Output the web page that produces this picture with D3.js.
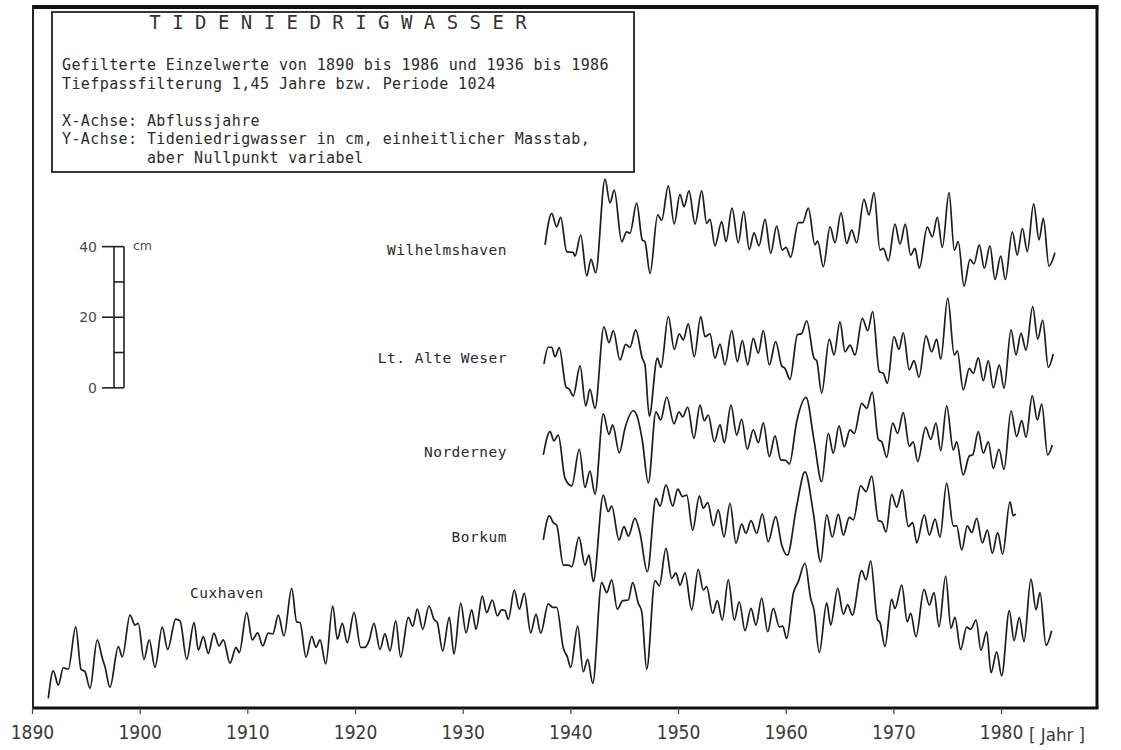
<!DOCTYPE html>
<html>
<head>
<meta charset="utf-8">
<script src="https://cdn.jsdelivr.net/npm/d3@7"></script>
<style>
  body { margin: 0; background: #fff; }
  .mono { font-family: "DejaVu Sans Mono", monospace; fill: #2b2b2b; }
  .axis text { font-family: "DejaVu Sans Condensed", "DejaVu Sans", sans-serif; font-stretch: condensed; fill: #3a3a3a; }
</style>
</head>
<body>
<div id="container"></div>
<script>
// Tideniedrigwasser, gefilterte Werte: [Abflussjahr, cm auf der Zeichnung (Nullpunkt variabel)]
const wilhelmshaven = [
  [1937.65,131.2],[1938.27,140.1],[1938.73,136.3],[1939.10,139.0],[1939.66,129.3],[1940.27,129.0],[1940.43,128.0],
  [1940.96,134.0],[1941.52,122.4],[1941.92,127.1],[1942.35,123.3],[1943.22,149.8],[1943.68,143.1],[1944.08,146.7],
  [1944.77,132.1],[1945.23,134.9],[1945.54,134.5],[1946.16,143.0],[1946.68,132.6],[1946.93,132.1],[1947.40,123.1],
  [1948.11,139.7],[1948.48,138.2],[1949.10,147.9],[1949.65,137.1],[1950.18,145.5],[1950.56,142.0],[1951.02,146.5],
  [1951.58,137.1],[1952.20,146.5],[1952.66,137.3],[1952.97,138.4],[1953.43,130.9],[1954.06,137.8],[1954.46,132.1],
  [1955.01,141.6],[1955.60,131.8],[1956.10,140.6],[1956.62,129.9],[1957.06,134.6],[1957.52,130.9],[1958.08,138.4],
  [1958.61,128.8],[1959.16,136.5],[1959.68,129.7],[1960.03,130.5],[1960.46,127.7],[1961.17,137.5],[1961.58,137.5],
  [1962.10,141.6],[1962.72,131.2],[1962.97,132.3],[1963.49,125.0],[1964.12,136.3],[1964.58,131.8],[1965.14,140.3],
  [1965.67,131.6],[1966.13,135.4],[1966.59,131.8],[1967.27,144.1],[1967.74,139.7],[1968.20,146.0],[1968.76,129.7],
  [1969.07,130.2],[1969.53,126.7],[1970.15,137.1],[1970.62,131.4],[1971.11,137.1],[1971.61,128.3],[1972.01,130.2],
  [1972.41,124.6],[1973.15,136.2],[1973.62,133.5],[1974.08,139.0],[1974.55,130.5],[1975.17,146.0],[1975.66,129.7],
  [1976.03,132.1],[1976.56,119.5],[1977.12,127.1],[1977.49,125.8],[1977.98,131.2],[1978.45,124.6],[1978.97,130.9],
  [1979.44,121.4],[1979.97,128.0],[1980.40,121.4],[1981.05,134.9],[1981.51,128.3],[1981.98,135.9],[1982.44,129.3],
  [1983.03,142.8],[1983.53,132.6],[1983.93,138.7],[1984.45,125.2],[1985.01,129.0]
];

const altWeser = [
  [1937.55,97.5],[1937.95,102.2],[1938.27,102.2],[1938.57,99.5],[1938.97,102.1],[1939.60,90.9],[1939.90,90.3],
  [1940.27,88.4],[1940.90,96.9],[1941.43,85.6],[1941.82,90.3],[1942.29,84.9],[1943.12,108.0],[1943.59,103.5],
  [1943.99,106.9],[1944.61,98.6],[1945.14,103.0],[1945.54,102.2],[1946.07,107.1],[1946.68,99.1],[1946.93,97.2],
  [1947.33,82.7],[1948.08,99.1],[1948.42,96.5],[1949.10,110.9],[1949.65,101.6],[1950.12,106.0],[1950.49,104.3],
  [1950.95,108.8],[1951.51,99.5],[1952.11,110.9],[1952.51,105.2],[1952.97,106.0],[1953.43,99.1],[1953.90,103.1],
  [1954.36,97.2],[1954.99,106.9],[1955.51,98.1],[1955.97,104.1],[1956.47,97.2],[1956.99,104.7],[1957.46,100.5],
  [1957.92,106.9],[1958.48,97.2],[1959.07,103.8],[1959.63,96.9],[1959.94,96.2],[1960.40,93.1],[1961.08,105.7],
  [1961.49,106.1],[1961.95,109.7],[1962.63,99.1],[1962.88,98.4],[1963.34,89.2],[1964.05,104.5],[1964.49,100.0],
  [1965.04,109.4],[1965.51,100.9],[1965.97,102.8],[1966.44,100.0],[1967.12,110.4],[1967.62,106.9],[1968.08,112.3],
  [1968.69,95.3],[1969.07,94.8],[1969.44,92.0],[1970.06,105.2],[1970.52,101.6],[1970.92,106.3],[1971.48,95.8],
  [1971.92,98.4],[1972.38,93.7],[1973.03,105.4],[1973.56,100.9],[1974.02,104.5],[1974.40,98.8],[1975.05,116.1],
  [1975.66,100.0],[1975.94,101.2],[1976.49,90.1],[1977.05,96.2],[1977.42,94.8],[1977.89,99.2],[1978.35,92.7],
  [1978.82,98.4],[1979.28,90.7],[1979.84,97.2],[1980.28,90.6],[1980.93,107.1],[1981.39,100.0],[1981.85,106.1],
  [1982.32,101.4],[1982.94,113.7],[1983.41,104.5],[1983.87,109.9],[1984.39,96.5],[1984.85,100.3]
];

const norderney = [
  [1937.49,71.7],[1938.11,78.3],[1938.48,75.7],[1938.88,77.3],[1939.50,65.1],[1940.13,62.9],[1940.83,73.3],
  [1941.36,62.5],[1941.82,67.1],[1942.29,60.6],[1943.06,83.3],[1943.59,77.5],[1943.93,80.2],[1944.55,72.3],
  [1945.07,79.2],[1945.85,84.2],[1946.16,83.0],[1946.68,75.9],[1947.24,63.8],[1947.95,83.9],[1948.39,81.6],
  [1948.95,88.1],[1949.63,80.5],[1950.09,83.9],[1950.43,82.5],[1950.90,85.2],[1951.48,76.4],[1952.04,85.8],
  [1952.44,81.4],[1952.81,83.0],[1953.37,75.4],[1953.90,80.2],[1954.30,75.2],[1954.92,85.8],[1955.45,77.3],
  [1955.91,81.8],[1956.43,73.3],[1956.99,78.8],[1957.46,75.2],[1957.92,80.8],[1958.48,71.2],[1959.01,77.1],
  [1959.54,70.3],[1960.03,70.1],[1960.34,69.1],[1961.02,81.1],[1961.89,88.0],[1962.63,75.9],[1963.34,64.1],
  [1963.96,77.8],[1964.42,72.2],[1964.95,79.9],[1965.44,74.0],[1965.97,78.8],[1966.37,77.8],[1967.06,86.3],
  [1967.52,84.9],[1968.04,89.5],[1968.60,76.1],[1968.92,75.4],[1969.38,71.0],[1969.94,80.7],[1970.40,77.8],
  [1970.92,83.7],[1971.48,74.2],[1971.85,75.4],[1972.26,69.8],[1973.00,79.5],[1973.47,76.1],[1973.96,80.7],
  [1974.40,72.9],[1974.95,85.6],[1975.57,73.1],[1975.88,75.4],[1976.49,66.0],[1977.05,71.4],[1977.37,71.7],
  [1977.89,78.3],[1978.35,72.2],[1978.82,75.4],[1979.28,67.9],[1979.81,73.3],[1980.28,67.6],[1980.93,84.2],
  [1981.45,76.9],[1981.92,81.4],[1982.32,76.7],[1982.90,88.4],[1983.37,81.6],[1983.78,86.1],[1984.33,71.7],
  [1984.76,74.5]
];

const borkum = [
  [1937.49,47.6],[1938.04,54.4],[1938.42,52.5],[1938.73,51.8],[1939.35,40.5],[1939.81,40.5],[1940.13,40.0],
  [1940.80,48.4],[1941.36,40.5],[1941.73,43.3],[1942.13,35.8],[1943.06,60.3],[1943.52,55.6],[1943.84,57.2],
  [1944.52,47.6],[1944.98,51.4],[1945.38,48.7],[1946.00,53.7],[1946.47,49.5],[1947.15,38.6],[1947.95,59.4],
  [1948.33,57.2],[1948.88,63.2],[1949.51,57.2],[1949.97,62.0],[1950.43,59.9],[1950.81,60.3],[1951.36,50.4],
  [1951.98,60.1],[1952.35,56.6],[1952.76,58.2],[1953.28,51.6],[1953.74,56.1],[1954.27,48.5],[1954.83,58.0],
  [1955.38,46.7],[1955.91,52.1],[1956.31,49.5],[1956.78,53.1],[1957.31,49.5],[1957.83,55.0],[1958.38,47.1],
  [1959.07,54.2],[1959.63,46.2],[1960.15,43.3],[1961.02,57.2],[1961.79,66.9],[1962.57,55.2],[1963.25,41.4],
  [1963.81,54.7],[1964.33,48.4],[1964.89,54.9],[1965.35,49.0],[1965.91,54.0],[1966.28,53.3],[1966.97,62.9],
  [1967.46,61.3],[1967.99,65.7],[1968.60,53.1],[1968.92,52.8],[1969.32,49.9],[1969.84,60.5],[1970.31,56.9],
  [1970.83,61.8],[1971.39,51.4],[1971.80,52.5],[1972.17,46.8],[1972.87,54.7],[1973.34,49.0],[1973.87,53.5],
  [1974.33,48.4],[1974.95,63.7],[1975.57,51.6],[1975.88,51.6],[1976.35,44.8],[1976.87,51.6],[1977.28,49.7],
  [1977.74,53.7],[1978.26,46.8],[1978.73,50.4],[1979.19,43.8],[1979.69,49.7],[1980.15,43.6],[1980.83,58.4],
  [1981.14,54.4],[1981.36,55.0]
];

const cuxhaven = [
  [1891.51,2.7],[1891.98,10.5],[1892.44,6.5],[1892.91,11.4],[1893.37,11.0],[1894.06,23.0],[1894.55,11.0],
  [1894.92,10.3],[1895.39,5.6],[1896.06,19.3],[1896.53,14.1],[1896.78,11.7],[1897.24,5.9],[1898.02,17.4],
  [1898.39,14.5],[1899.10,26.3],[1899.57,23.5],[1899.87,24.0],[1900.40,13.8],[1900.89,19.3],[1901.42,11.5],
  [1902.10,22.9],[1902.60,16.6],[1903.35,25.2],[1903.75,24.7],[1904.37,13.8],[1905.05,24.2],[1905.45,16.4],
  [1905.91,20.2],[1906.37,15.5],[1906.90,21.2],[1907.37,17.6],[1907.77,19.3],[1908.39,12.7],[1908.95,17.2],
  [1909.25,15.7],[1909.94,27.0],[1910.46,19.3],[1910.96,21.3],[1911.43,17.6],[1911.95,21.2],[1912.36,21.0],
  [1912.88,26.3],[1913.40,20.4],[1914.12,33.9],[1914.58,24.4],[1914.89,24.2],[1915.45,14.4],[1915.98,20.2],
  [1916.38,17.2],[1916.75,19.3],[1917.28,12.5],[1917.93,28.9],[1918.36,19.5],[1918.82,24.0],[1919.28,18.5],
  [1919.91,27.0],[1920.53,17.2],[1920.93,17.2],[1921.33,19.3],[1921.76,24.0],[1922.32,16.6],[1922.78,21.0],
  [1923.25,16.2],[1923.78,24.7],[1924.24,14.4],[1924.95,25.7],[1925.36,23.2],[1925.79,28.0],[1926.29,22.3],
  [1926.87,28.9],[1927.34,25.1],[1927.64,24.2],[1928.14,16.2],[1928.76,25.7],[1929.19,15.3],[1929.82,29.7],
  [1930.31,21.3],[1930.84,27.8],[1931.24,22.3],[1931.82,31.7],[1932.23,27.0],[1932.75,30.6],[1933.22,26.1],
  [1933.62,27.8],[1933.93,27.6],[1934.24,25.1],[1934.79,33.4],[1935.26,28.0],[1935.72,32.5],[1936.32,21.3],
  [1936.81,26.6],[1937.25,21.2],[1937.95,29.5],[1938.36,28.5],[1938.73,28.5],[1939.35,16.9],[1939.72,14.5],
  [1940.03,11.5],[1940.68,23.2],[1941.20,10.3],[1941.61,13.8],[1942.08,7.0],[1942.91,35.5],[1943.38,32.7],
  [1943.84,36.3],[1944.36,28.0],[1944.86,30.4],[1945.38,30.6],[1945.79,35.5],[1946.31,29.7],[1946.63,27.3],
  [1947.09,11.0],[1947.86,36.1],[1948.26,34.6],[1948.88,45.2],[1949.41,36.7],[1949.81,38.3],[1950.18,34.8],
  [1950.65,38.3],[1951.27,27.8],[1951.88,39.3],[1952.35,33.4],[1952.66,34.4],[1953.22,26.8],[1953.65,30.4],
  [1954.11,24.9],[1954.67,36.3],[1955.23,24.9],[1955.69,30.1],[1956.22,21.9],[1956.78,28.2],[1957.24,23.5],
  [1957.77,31.1],[1958.33,21.6],[1958.85,28.2],[1959.41,23.0],[1959.72,23.2],[1960.09,19.7],[1960.71,32.5],
  [1961.17,35.8],[1961.79,41.0],[1962.32,31.1],[1962.63,27.8],[1963.12,15.7],[1963.81,29.8],[1964.18,23.5],
  [1964.83,33.9],[1965.35,26.6],[1965.76,29.2],[1966.19,26.3],[1967.06,38.9],[1967.46,36.3],[1967.89,41.7],
  [1968.51,25.1],[1968.76,24.2],[1969.22,17.4],[1969.84,30.8],[1970.15,28.2],[1970.78,34.8],[1971.29,24.4],
  [1971.61,26.8],[1972.10,20.2],[1972.85,33.6],[1973.34,29.2],[1973.78,32.7],[1974.24,23.0],[1974.86,37.4],
  [1975.35,22.6],[1975.72,25.7],[1976.25,16.6],[1976.81,22.9],[1977.18,22.3],[1977.68,24.9],[1978.14,16.4],
  [1978.67,21.6],[1979.07,10.0],[1979.60,15.9],[1980.06,9.1],[1980.77,27.6],[1981.21,19.1],[1981.70,25.7],
  [1982.13,18.8],[1982.78,36.5],[1983.25,27.8],[1983.62,32.7],[1984.18,17.8],[1984.70,21.9]
];

const stations = ["Wilhelmshaven", "Lt. Alte Weser", "Norderney", "Borkum", "Cuxhaven"];
const seriesData = [wilhelmshaven, altWeser, norderney, borkum, cuxhaven];
const decadeTicks = [1890, 1900, 1910, 1920, 1930, 1940, 1950, 1960, 1970, 1980];
const scaleTicks = [0, 10, 20, 30, 40];
const scaleLabels = [0, 20, 40];

const boxLines = [
  "Gefilterte Einzelwerte von 1890 bis 1986 und 1936 bis 1986",
  "Tiefpassfilterung 1,45 Jahre bzw. Periode 1024",
  "",
  "X-Achse: Abflussjahre",
  "Y-Achse: Tideniedrigwasser in cm, einheitlicher Masstab,",
  "         aber Nullpunkt variabel"
];

const w = 1121;
const h = 750;

const svg = d3.select("#container")
              .append("svg")
              .attr("width", w)
              .attr("height", h);

// 10.77 px pro Jahr, 3.53 px pro cm
const x = d3.scaleLinear().domain([1890, 1990]).range([32, 1108.7]);
const y = d3.scaleLinear().domain([0, 40]).range([708, 708 - 141.2]);

const frameRight = 1097;
const frameTop = 7;
const frameBottom = 708;

// Rahmen
svg.append("line").attr("x1", x(1890)).attr("x2", frameRight + 1.5)
   .attr("y1", frameTop).attr("y2", frameTop)
   .attr("stroke", "#111").attr("stroke-width", 4);
svg.append("line").attr("x1", x(1890)).attr("x2", frameRight + 1.5)
   .attr("y1", frameBottom).attr("y2", frameBottom)
   .attr("stroke", "#111").attr("stroke-width", 3);
svg.append("line").attr("x1", x(1890) + 1).attr("x2", x(1890) + 1)
   .attr("y1", frameTop).attr("y2", frameBottom)
   .attr("stroke", "#222").attr("stroke-width", 2);
svg.append("line").attr("x1", frameRight).attr("x2", frameRight)
   .attr("y1", frameTop).attr("y2", frameBottom)
   .attr("stroke", "#111").attr("stroke-width", 3);

// X-Achse
const xAxis = d3.axisBottom(x)
                .tickValues(decadeTicks)
                .tickFormat(d3.format("d"))
                .tickSize(6)
                .tickPadding(12);

const axisG = svg.append("g")
                 .attr("class", "axis")
                 .attr("transform", `translate(0,${frameBottom})`)
                 .call(xAxis);
axisG.select(".domain").remove();
axisG.selectAll(".tick line").attr("stroke", "#444").attr("stroke-width", 1.2);
axisG.selectAll(".tick text").style("font-size", "19px");

svg.append("text")
   .attr("x", 1029)
   .attr("y", 741)
   .style("font-family", "'DejaVu Sans Condensed', 'DejaVu Sans', sans-serif")
   .style("font-stretch", "condensed")
   .style("font-size", "18.5px")
   .style("fill", "#3a3a3a")
   .text("[ Jahr ]");

// Kurven
const line = d3.line()
               .x(d => x(d[0]))
               .y(d => y(d[1]))
               .curve(d3.curveMonotoneX);

svg.selectAll("path.series")
   .data(seriesData)
   .enter()
   .append("path")
   .attr("class", "series")
   .attr("d", line)
   .attr("fill", "none")
   .attr("stroke", "#1c1c1c")
   .attr("stroke-width", 1.7)
   .attr("stroke-linejoin", "round");

// Stationsnamen
const labelPos = [
  {x: 507, y: 255, anchor: "end"},
  {x: 507, y: 363, anchor: "end"},
  {x: 507, y: 457, anchor: "end"},
  {x: 507, y: 542, anchor: "end"},
  {x: 190, y: 598, anchor: "start"}
];

svg.selectAll("text.station")
   .data(stations)
   .enter()
   .append("text")
   .attr("class", "station mono")
   .attr("x", (d, i) => labelPos[i].x)
   .attr("y", (d, i) => labelPos[i].y)
   .attr("text-anchor", (d, i) => labelPos[i].anchor)
   .style("font-size", "14.5px")
   .style("letter-spacing", "0.5px")
   .text(d => d);

// Titelkasten
svg.append("rect")
   .attr("x", 52).attr("y", 12)
   .attr("width", 582).attr("height", 160)
   .attr("fill", "#fff")
   .attr("stroke", "#222")
   .attr("stroke-width", 1.8);

svg.append("text")
   .attr("class", "mono")
   .attr("x", 338)
   .attr("y", 29)
   .attr("text-anchor", "middle")
   .style("font-size", "19px")
   .style("fill", "#333")
   .text("T I D E N I E D R I G W A S S E R");

svg.selectAll("text.boxline")
   .data(boxLines)
   .enter()
   .append("text")
   .attr("class", "boxline mono")
   .attr("x", 62)
   .attr("y", (d, i) => 70 + i * 18.6)
   .style("font-size", "15px")
   .style("letter-spacing", "0.4px")
   .style("white-space", "pre")
   .attr("xml:space", "preserve")
   .text(d => d);

// Massstab (cm)
const scaleBase = 90.7;
const bar = svg.append("g").attr("class", "scalebar");

bar.selectAll("line.side")
   .data([114, 124])
   .enter()
   .append("line")
   .attr("x1", d => d).attr("x2", d => d)
   .attr("y1", y(scaleBase)).attr("y2", y(scaleBase + 40))
   .attr("stroke", "#222").attr("stroke-width", 1.6);

bar.selectAll("line.tick")
   .data(scaleTicks)
   .enter()
   .append("line")
   .attr("x1", d => d % 20 === 0 ? 102 : 114)
   .attr("x2", 124)
   .attr("y1", d => y(scaleBase + d))
   .attr("y2", d => y(scaleBase + d))
   .attr("stroke", "#222").attr("stroke-width", 1.6);

bar.selectAll("text.lab")
   .data(scaleLabels)
   .enter()
   .append("text")
   .attr("x", 97)
   .attr("y", d => y(scaleBase + d) + 5)
   .attr("text-anchor", "end")
   .style("font-family", "'DejaVu Sans', sans-serif")
   .style("font-size", "14px")
   .style("fill", "#4a4a4a")
   .text(d => d);

bar.append("text")
   .attr("x", 133)
   .attr("y", y(scaleBase + 40) + 3)
   .style("font-family", "'DejaVu Sans', sans-serif")
   .style("font-size", "12.5px")
   .style("fill", "#4a4a4a")
   .text("cm");
</script>
</body>
</html>
